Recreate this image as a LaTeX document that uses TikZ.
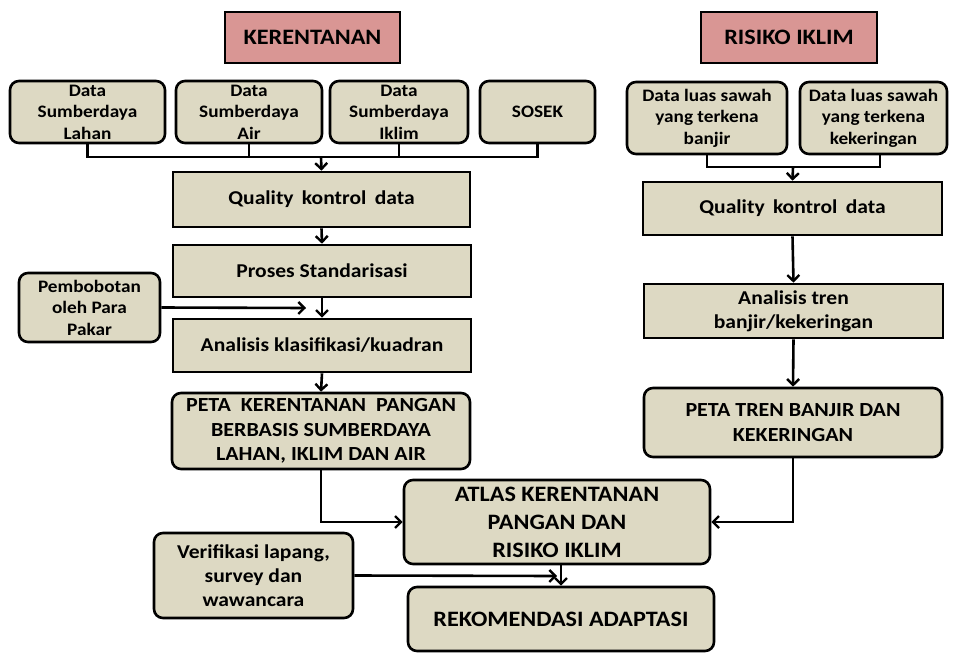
\documentclass[tikz,border=0pt]{standalone}
\usepackage{fontspec}
\setmainfont{Carlito}[FakeStretch=1.1]
\newfontfamily\widesp{Carlito}[FakeStretch=1.1,WordSpace=1.7]
\usetikzlibrary{arrows.meta}
\definecolor{tan}{RGB}{221,217,195}
\definecolor{hdr}{RGB}{217,150,148}
\tikzset{
  box/.style={draw=black, line width=2.6pt, fill=tan, inner sep=0pt, align=center, font=\bfseries},
  rbox/.style={box, rounded corners=9pt},
  hbox/.style={draw=black, line width=2.6pt, fill=hdr, inner sep=0pt, align=center, font=\bfseries\fontsize{22}{26}\selectfont},
  conn/.style={line width=2.6pt},
  arr/.style={conn, -{Straight Barb[length=6pt,width=12pt,line width=2.4pt]}},
  fA/.style={font=\bfseries\fontsize{17.5}{21.5}\selectfont},
  fB/.style={font=\bfseries\fontsize{19.6}{24}\selectfont},
  fW/.style={font=\widesp\bfseries\fontsize{19.6}{24}\selectfont},
  fC/.style={font=\bfseries\fontsize{20}{24.5}\selectfont},
  fD/.style={font=\bfseries\fontsize{22}{28}\selectfont},
}
\begin{document}
\begin{tikzpicture}[x=1pt,y=-1pt]
\useasboundingbox (0,0) rectangle (953,653);
% headers
\node[hbox, minimum width=175pt, minimum height=51pt] (ker) at (312.5,37.5) {KERENTANAN};
\node[hbox, minimum width=176pt, minimum height=51pt] (ris) at (789,37.5) {RISIKO IKLIM};
% left data boxes
\node[rbox, fA, minimum width=155pt, minimum height=62pt] (lahan) at (87.5,112) {Data\\Sumberdaya\\Lahan};
\node[rbox, fA, minimum width=146pt, minimum height=62pt] (air) at (249,112) {Data\\Sumberdaya\\Air};
\node[rbox, fA, minimum width=138pt, minimum height=62pt] (iklim) at (399,112) {Data\\Sumberdaya\\Iklim};
\node[rbox, fA, minimum width=115pt, minimum height=62pt] (sosek) at (537.5,112) {SOSEK};
% right data boxes
\node[rbox, fA, minimum width=160pt, minimum height=72pt] (banjir) at (707,118) {Data luas sawah\\yang terkena\\banjir};
\node[rbox, fA, minimum width=147pt, minimum height=72pt] (kering) at (873.5,118) {Data luas sawah\\yang terkena\\kekeringan};
% left column
\node[box, fW, minimum width=297pt, minimum height=55pt] (qcL) at (321.5,199.5) {Quality kontrol data};
\node[box, fB, minimum width=298pt, minimum height=52pt] (std) at (322,271) {Proses Standarisasi};
\node[box, fB, minimum width=298pt, minimum height=53pt] (ana) at (322,345.5) {Analisis klasifikasi/kuadran};
\node[rbox, fA, minimum width=141pt, minimum height=69pt] (bobot) at (89.5,307.5) {Pembobotan\\oleh Para\\Pakar};
\node[rbox, fC, minimum width=298pt, minimum height=76pt] (petaK) at (321,431) {PETA\ \ KERENTANAN\ \ PANGAN\\BERBASIS SUMBERDAYA\\LAHAN, IKLIM DAN AIR};
% right column
\node[box, fW, minimum width=299pt, minimum height=53pt] (qcR) at (792.5,208.5) {Quality kontrol data};
\node[box, fB, minimum width=299pt, minimum height=54pt] (tren) at (793.5,311) {Analisis tren\\banjir/kekeringan};
\node[rbox, fC, minimum width=298pt, minimum height=69pt] (petaT) at (793,422.5) {PETA TREN BANJIR DAN\\KEKERINGAN};
% bottom
\node[rbox, fD, minimum width=306pt, minimum height=84pt] (atlas) at (557,522) {ATLAS KERENTANAN\\PANGAN DAN\\RISIKO IKLIM};
\node[rbox, fB, minimum width=199pt, minimum height=85pt] (verif) at (253.5,575.5) {Verifikasi lapang,\\survey dan\\wawancara};
\node[rbox, fD, minimum width=306pt, minimum height=64pt] (rek) at (561,619) {REKOMENDASI ADAPTASI};
% junctions
\coordinate (jL) at (321,157);
\coordinate (jR) at (793,167);
\coordinate (bobE) at (306,308);
\coordinate (vE) at (557,576);
% connectors left top
\draw[conn] (lahan.south) |- (jL) -| (sosek.south);
\draw[conn] (air.south) -- (air.south |- jL);
\draw[conn] (iklim.south) -- (iklim.south |- jL);
\draw[arr] (jL) -- (qcL.north);
\draw[arr] (qcL.south) -- (std.north);
\draw[arr] (std.south) -- (ana.north);
\draw[arr] (ana.south) -- (petaK.north);
\draw[arr] (bobot.east) -- (bobE);
\draw[arr] (petaK.south) |- (atlas.west);
% connectors right
\draw[conn] (banjir.south) |- (jR) -| ([xshift=6.5pt]kering.south);
\draw[arr] (jR) -- (qcR.north);
\draw[arr] (qcR.south) -- (tren.north);
\draw[arr] (tren.south) -- (petaT.north);
\draw[arr] (petaT.south) |- (atlas.east);
% bottom
\draw[arr] (rek.north |- atlas.south) -- (rek.north);
\draw[arr] (verif.east) -- (vE);
\end{tikzpicture}
\end{document}
